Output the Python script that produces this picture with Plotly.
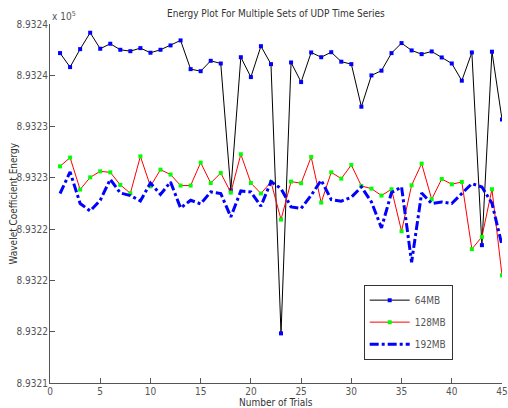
import plotly.graph_objects as go

trials = list(range(1, 46))

energy_64mb = [
    893237.73, 893236.64, 893238.04, 893239.32, 893238.07, 893238.46, 893237.99, 893237.88, 893238.12, 893237.76,
    893237.99, 893238.33, 893238.72, 893236.48, 893236.32, 893237.13, 893236.92, 893227.03, 893237.41, 893235.86,
    893238.27, 893236.87, 893215.87, 893237.00, 893235.47, 893237.78, 893237.41, 893237.80, 893237.06, 893236.87,
    893233.55, 893235.99, 893236.36, 893237.73, 893238.51, 893237.94, 893237.65, 893237.86, 893237.39, 893236.92,
    893235.58, 893237.78, 893222.75, 893237.84, 893232.56,
]
energy_128mb = [
    893228.90, 893229.58, 893227.09, 893228.04, 893228.51, 893228.43, 893227.45, 893226.80, 893229.68, 893227.34,
    893228.64, 893228.26, 893227.40, 893227.40, 893229.19, 893227.60, 893228.38, 893226.85, 893229.84, 893227.60,
    893226.78, 893227.68, 893224.75, 893227.71, 893227.58, 893229.63, 893226.07, 893228.43, 893227.94, 893229.00,
    893227.37, 893227.16, 893226.62, 893227.11, 893223.84, 893227.42, 893229.11, 893226.33, 893227.91, 893227.50,
    893227.68, 893222.44, 893223.40, 893227.11, 893220.41,
]
energy_192mb = [
    893226.78, 893228.46, 893226.00, 893225.42, 893226.25, 893227.89, 893226.82, 893226.62, 893226.20, 893227.60,
    893226.70, 893227.68, 893225.65, 893226.25, 893225.97, 893226.90, 893226.78, 893224.95, 893226.98, 893226.90,
    893225.79, 893227.71, 893227.16, 893225.73, 893225.61, 893226.64, 893227.81, 893226.31, 893226.18, 893226.49,
    893227.29, 893226.12, 893224.10, 893226.85, 893227.29, 893221.42, 893226.82, 893226.00, 893226.12, 893226.00,
    893226.78, 893227.55, 893227.29, 893226.02, 893222.75,
]

x_ticks = [0, 5, 10, 15, 20, 25, 30, 35, 40, 45]
y_ticks = [893212, 893216, 893220, 893224, 893228, 893232, 893236, 893240]
y_tick_labels = ["8.9321", "8.9322", "8.9322", "8.9322", "8.9323", "8.9323", "8.9324", "8.9324"]

FONT = "Liberation Sans Narrow, DejaVu Sans Condensed, Arial Narrow, sans-serif"
GREY = "#555555"
DARK = "#333333"

fig = go.Figure()
fig.add_trace(go.Scatter(
    x=trials, y=energy_64mb, name="64MB", mode="lines+markers",
    line=dict(color="black", width=1),
    marker=dict(color="#0000ff", size=4, symbol="square"),
    legendgroup="a",
))
fig.add_trace(go.Scatter(
    x=trials, y=energy_128mb, name="128MB", mode="lines+markers",
    line=dict(color="#ff0000", width=1),
    marker=dict(color="#00ff00", size=4, symbol="square"),
    legendgroup="b",
))
fig.add_trace(go.Scatter(
    x=trials, y=energy_192mb, name="192MB", mode="lines",
    line=dict(color="#0000ff", width=3, dash="dashdot"),
    legendgroup="c",
))

fig.update_layout(
    width=508, height=408,
    margin=dict(l=50, r=6, t=24, b=25, autoexpand=False),
    paper_bgcolor="white", plot_bgcolor="white",
    font=dict(family=FONT, size=10, color=GREY),
    showlegend=True,
    legend=dict(x=0.694, y=0.274, xanchor="left", yanchor="top",
                bordercolor=DARK, borderwidth=1, bgcolor="white",
                font=dict(family=FONT, size=10, color=GREY),
                tracegroupgap=3, itemwidth=40, entrywidth=76),
    xaxis=dict(range=[0, 45], tickvals=x_ticks, ticks="inside", ticklen=5,
               showline=True, linecolor=GREY, linewidth=1, tickcolor=GREY,
               showgrid=False, zeroline=False, mirror=False, automargin=False,
               ticklabelstandoff=-1),
    yaxis=dict(range=[893212, 893240], tickvals=y_ticks, ticktext=y_tick_labels,
               ticks="inside", ticklen=5,
               showline=True, linecolor=GREY, linewidth=1, tickcolor=GREY,
               showgrid=False, zeroline=False, mirror=False, automargin=False,
               ticklabelstandoff=-1),
    annotations=[
        dict(text="Energy Plot For Multiple Sets of UDP Time Series", xref="paper", yref="paper",
             x=0.5, y=1.0, yshift=11, xanchor="center", yanchor="middle",
             showarrow=False, font=dict(family=FONT, size=10, color=DARK)),
        dict(text="x 10<sup>5</sup>", xref="paper", yref="paper",
             x=0, y=1.0, xanchor="left", yanchor="bottom",
             showarrow=False, font=dict(family=FONT, size=10, color=GREY)),
        dict(text="Number of Trials", xref="paper", yref="paper",
             x=0.5, y=0, yshift=-19, xanchor="center", yanchor="middle",
             showarrow=False, font=dict(family=FONT, size=10, color=DARK)),
        dict(text="Wavelet Coefficient Energy", xref="paper", yref="paper",
             x=0, xshift=-37, y=0.5, xanchor="center", yanchor="middle", textangle=-90,
             showarrow=False, font=dict(family=FONT, size=10, color=DARK)),
    ],
)

fig.write_html("out.html", config={"displayModeBar": False},
               post_script="document.body.style.margin='0';document.body.style.overflow='hidden';")
